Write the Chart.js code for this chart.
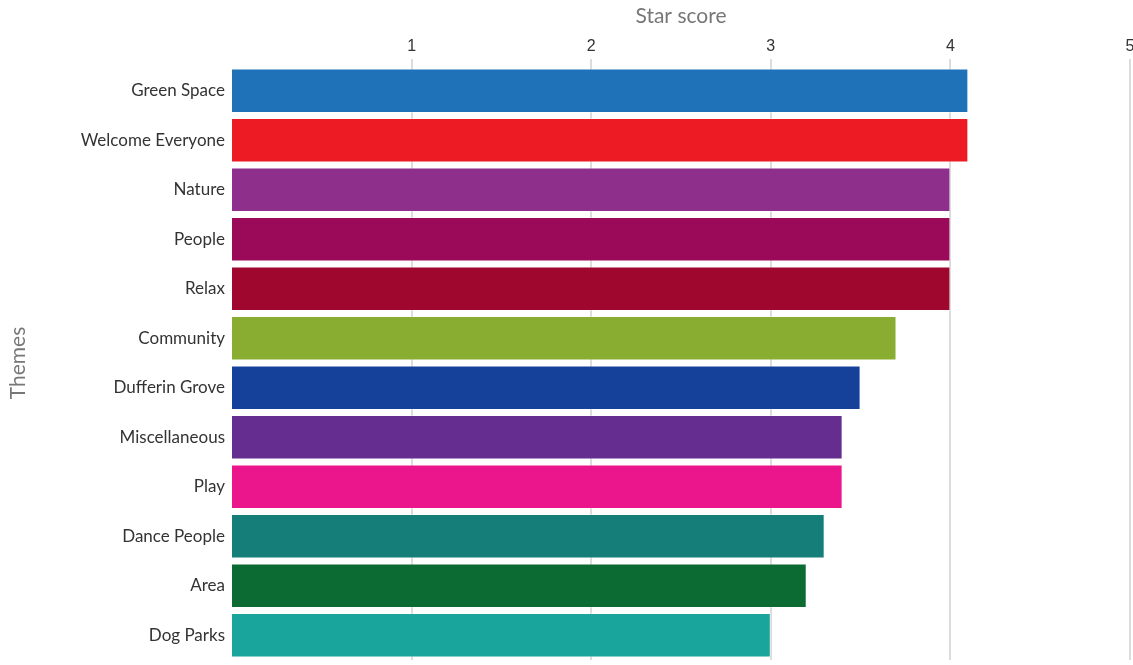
<!DOCTYPE html>
<html>
<head>
<meta charset="utf-8">
<script src="https://cdn.jsdelivr.net/npm/chart.js@4"></script>
<style>
  html, body { margin: 0; padding: 0; overflow: hidden; background: #fff; }
  #wrap { width: 1150px; height: 680px; }
</style>
</head>
<body>
<div id="wrap"><canvas id="starChart" width="1150" height="680"></canvas></div>
<script>
// themes and their star scores
const themes = ["Green Space", "Welcome Everyone", "Nature", "People", "Relax", "Community",
  "Dufferin Grove", "Miscellaneous", "Play", "Dance People", "Area", "Dog Parks"];
const scores = [4.1, 4.1, 4.0, 4.0, 4.0, 3.7, 3.5, 3.4, 3.4, 3.3, 3.2, 3.0];
const barColors = ["#1f72b8", "#ed1c24", "#8f2f8c", "#9b0a59", "#a0072f", "#88ad30",
  "#16419a", "#652d90", "#ec168c", "#167e78", "#0b6b33", "#19a59b"];
const scoreTicks = [1, 2, 3, 4, 5];

const ctx = document.getElementById("starChart").getContext("2d");

new Chart(ctx, {
  type: "bar",
  data: {
    labels: themes,
    datasets: [{
      label: "Star score",
      data: scores,
      backgroundColor: barColors,
      borderColor: "rgba(255,255,255,0.35)",
      borderWidth: 1,
      barPercentage: 0.9,
      categoryPercentage: 1.0
    }]
  },
  options: {
    indexAxis: "y",
    responsive: false,
    animation: false,
    layout: { padding: { left: 0, right: 20, top: 0, bottom: 20 } },
    plugins: {
      legend: { display: false },
      tooltip: { enabled: false }
    },
    scales: {
      x: {
        position: "top",
        min: 0,
        max: 5,
        afterBuildTicks: function(scale) {
          scale.ticks = scoreTicks.map(v => ({ value: v }));
        },
        afterFit: function(scale) { scale.height = 66; },
        grid: {
          color: "#dcdcdc",
          lineWidth: 2,
          tickLength: 7
        },
        border: { display: false },
        ticks: {
          color: "#333",
          padding: 3,
          font: { family: "'Liberation Sans', Arial", size: 16 }
        },
        title: {
          display: true,
          text: "Star score",
          color: "#777",
          padding: { top: 4, bottom: 0 },
          font: { family: "Lato", size: 21 }
        }
      },
      y: {
        afterFit: function(scale) { scale.width = 232; },
        grid: { display: false, drawTicks: false },
        border: { display: false },
        ticks: {
          color: "#333",
          padding: 7,
          font: { family: "Lato", size: 17 }
        },
        title: {
          display: true,
          text: "Themes",
          color: "#777",
          padding: { top: 6, bottom: 0 },
          font: { family: "Lato", size: 21 }
        }
      }
    }
  }
});
</script>
</body>
</html>
